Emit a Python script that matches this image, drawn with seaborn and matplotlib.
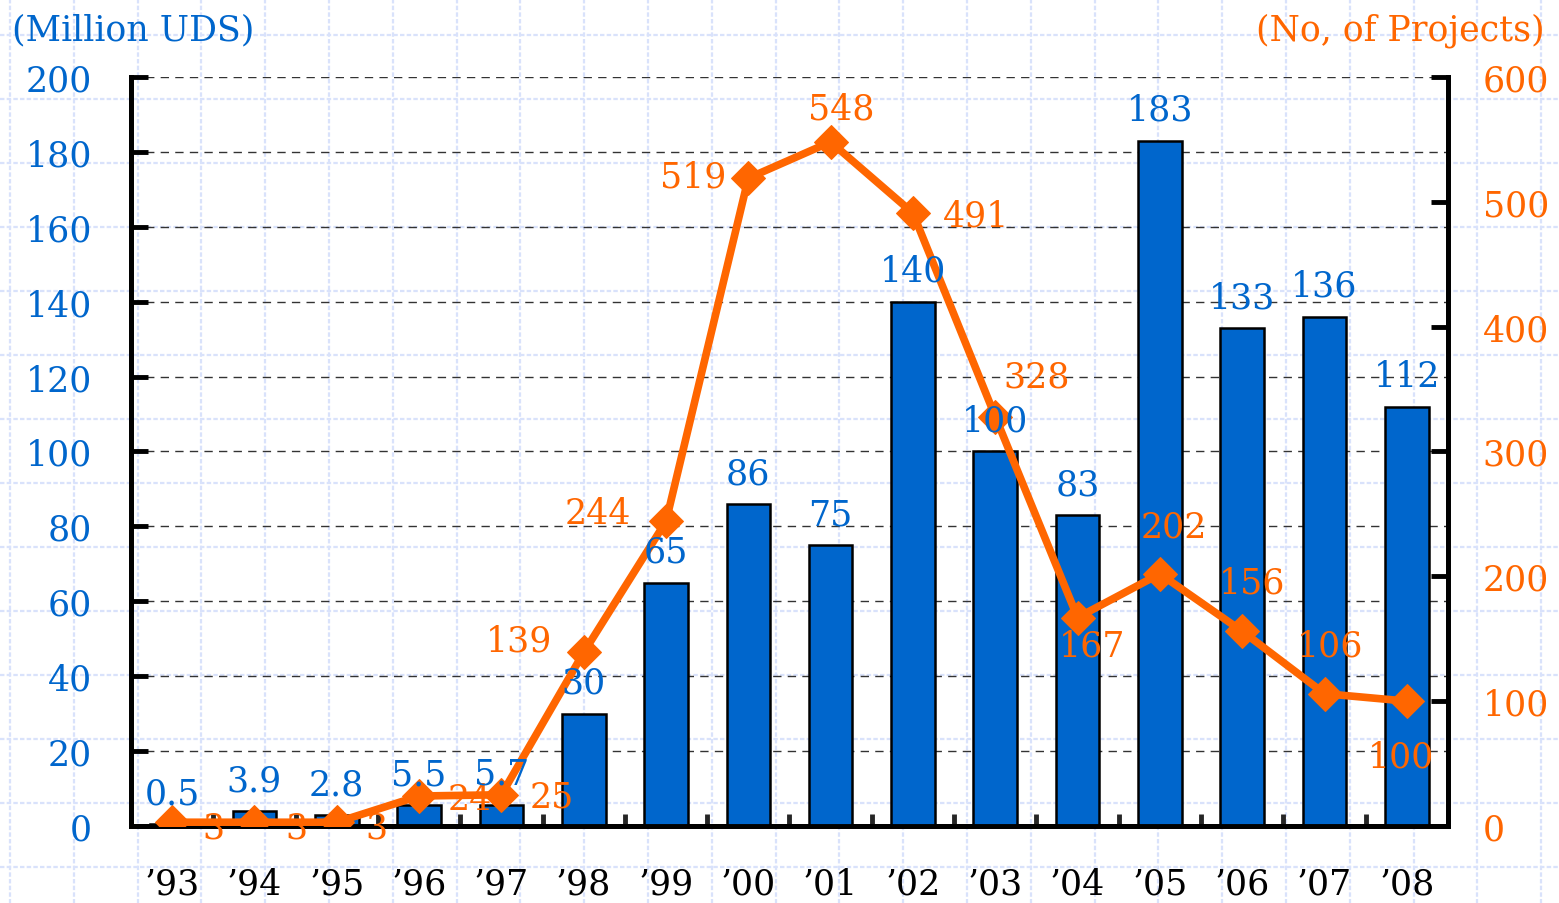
import numpy as np
import matplotlib.pyplot as plt
import seaborn as sns

# ---- data ----
years = ["’93", "’94", "’95", "’96", "’97", "’98", "’99", "’00",
         "’01", "’02", "’03", "’04", "’05", "’06", "’07", "’08"]
investment = [0.5, 3.9, 2.8, 5.5, 5.7, 30, 65, 86, 75, 140, 100, 83, 183, 133, 136, 112]
projects = [3, 3, 3, 24, 25, 139, 244, 519, 548, 491, 328, 167, 202, 156, 106, 100]
invest_labels = ["0.5", "3.9", "2.8", "5.5", "5.7", "30", "65", "86",
                 "75", "140", "100", "83", "183", "133", "136", "112"]

BLUE = "#0066CC"
ORANGE = "#FF6600"
FS = 25

sns.set_style("ticks")
plt.rcParams["font.family"] = ["DejaVu Serif"]
plt.rcParams["font.size"] = FS

fig = plt.figure(figsize=(15.59, 9.04), dpi=100)
fig.patch.set_facecolor("white")

# graph-paper background
bg = fig.add_axes([0, 0, 1, 1], zorder=-5)
bg.set_xlim(0, 1559)
bg.set_ylim(904, 0)
bg.vlines(np.arange(10, 1559, 63.8), 0, 904, color="#d9e2fb", lw=1.6, ls=(0, (2, 1)))
bg.hlines(np.arange(36, 904, 64), 0, 1559, color="#d9e2fb", lw=1.6, ls=(0, (2, 1)))
bg.axis("off")

ax = fig.add_axes([0.084, 0.0852, 0.8448, 0.8285])
ax.set_facecolor("none")

# bars
sns.barplot(x=years, y=investment, color=BLUE, saturation=1, width=0.53,
            edgecolor="black", linewidth=1.8, errorbar=None, ax=ax, zorder=3)
ax.set_xlim(-0.5, len(years) - 0.5)
ax.set_ylim(0, 200)
ax.set_yticks(np.arange(0, 201, 20))
ax.yaxis.grid(True, color="#333333", ls=(0, (6, 4.5)), lw=1.0)
ax.set_axisbelow(True)

# line on right axis
ax2 = ax.twinx()
x_pos = np.arange(len(years))
sns.lineplot(x=x_pos, y=projects, ax=ax2, color=ORANGE, lw=5.5, marker="D",
             markersize=17, markeredgecolor=ORANGE, zorder=5)
ax2.set_ylim(0, 600)
ax2.set_yticks(np.arange(0, 601, 100))
ax2.set_xlim(-0.5, len(years) - 0.5)

# spines / ticks
for a in (ax, ax2):
    for s in ("left", "right", "bottom"):
        a.spines[s].set_linewidth(3.5)
        a.spines[s].set_color("black")
    a.spines["top"].set_visible(False)

ax.tick_params(axis="y", direction="in", length=12, width=3.5, colors="black",
               labelcolor=BLUE, labelsize=FS, pad=28)
ax2.tick_params(axis="y", direction="in", length=12, width=3.5, colors="black",
                labelcolor=ORANGE, labelsize=FS, pad=25)
ax.set_xticks(x_pos)
ax.set_xticklabels(years)
ax.set_xticks(np.arange(-0.5, len(years)), minor=True)
ax.tick_params(axis="x", which="major", length=0, labelsize=FS, pad=29, labelcolor="black")
ax.tick_params(axis="x", which="minor", direction="in", length=9, width=3.5)
ax.set_xlabel("")
ax.set_ylabel("")
ax2.set_ylabel("")

# bar value labels (blue)
for i, (v, t) in enumerate(zip(investment, invest_labels)):
    ax2.annotate(t, xy=(i, v), xycoords=ax.transData, xytext=(0, 10),
                 textcoords="offset points", ha="center", va="bottom",
                 color=BLUE, fontsize=FS, zorder=10)

# project value labels (orange), offsets in pixels from the marker
offsets_px = [(41, -5), (42, -5), (40, -5), (51, -3), (50, -2), (-65, 12),
              (-68, 8), (-55, 2), (11, 33), (63, -2), (41, 40), (14, -28),
              (14, 47), (10, 49), (6, 48), (-6, -55)]
for i, (v, (dx, dy)) in enumerate(zip(projects, offsets_px)):
    ax2.annotate(str(v), xy=(i, v), xytext=(dx * 0.72, dy * 0.72),
                 textcoords="offset points", ha="center", va="center",
                 color=ORANGE, fontsize=FS, zorder=9)

fig.text(0.008, 0.966, "(Million UDS)", color=BLUE, fontsize=FS, ha="left", va="center")
fig.text(0.991, 0.966, "(No, of Projects)", color=ORANGE, fontsize=FS, ha="right", va="center")

fig.savefig("out.png", dpi=100)
